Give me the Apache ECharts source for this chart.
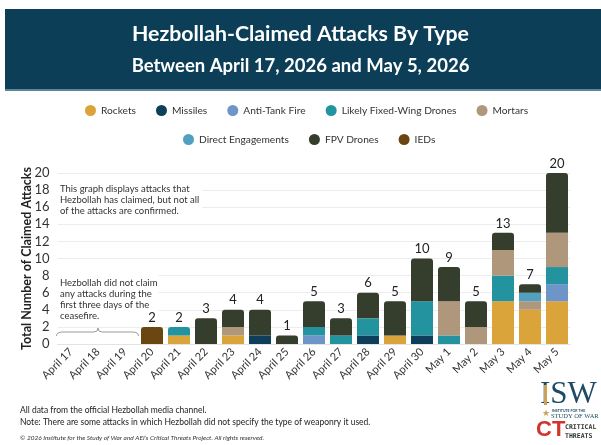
<!DOCTYPE html>
<html>
<head>
<meta charset="utf-8">
<script src="https://cdn.jsdelivr.net/npm/echarts@6/dist/echarts.min.js"></script>
<style>
html,body{margin:0;padding:0;background:#fff;}
#chart{width:601px;height:445px;}
</style>
</head>
<body>
<div id="chart"></div>
<script>
const categories = ['April 17','April 18','April 19','April 20','April 21','April 22','April 23','April 24','April 25','April 26','April 27','April 28','April 29','April 30','May 1','May 2','May 3','May 4','May 5'];
const rockets    = [0,0,0,0,1,0,1,0,0,0,0,0,1,0,0,0,5,4,5];
const missiles   = [0,0,0,0,0,0,0,1,0,0,0,1,0,1,0,0,0,0,0];
const antiTank   = [0,0,0,0,0,0,0,0,0,1,0,0,0,0,0,0,0,0,2];
const fixedWing  = [0,0,0,0,1,0,0,0,0,1,1,2,0,4,1,0,3,0,2];
const mortars    = [0,0,0,0,0,0,1,0,0,0,0,0,0,0,4,2,3,1,4];
const directEng  = [0,0,0,0,0,0,0,0,0,0,0,0,0,0,0,0,0,1,0];
const fpvDrones  = [0,0,0,0,0,3,2,3,1,3,2,3,4,5,4,3,2,1,7];
const ieds       = [0,0,0,2,0,0,0,0,0,0,0,0,0,0,0,0,0,0,0];
const yTicks = [0,2,4,6,8,10,12,14,16,18,20];

const seriesDefs = [
  {name:'Rockets', values:rockets, color:'#DBA43A'},
  {name:'Missiles', values:missiles, color:'#0D3F5B'},
  {name:'Anti-Tank Fire', values:antiTank, color:'#6D95C8'},
  {name:'Likely Fixed-Wing Drones', values:fixedWing, color:'#23949F'},
  {name:'Mortars', values:mortars, color:'#AE977A'},
  {name:'Direct Engagements', values:directEng, color:'#52A0BF'},
  {name:'FPV Drones', values:fpvDrones, color:'#353E2C'},
  {name:'IEDs', values:ieds, color:'#6A4710'}
];

const totals = categories.map((c,i)=>seriesDefs.reduce((a,s)=>a+s.values[i],0));
const topIdx = categories.map((c,i)=>{let t=-1; seriesDefs.forEach((s,si)=>{if(s.values[i]>0) t=si;}); return t;});

const FONT = 'Lato, "Open Sans", sans-serif';

const series = seriesDefs.map((s,si)=>({
  name:s.name, type:'bar', stack:'total', barWidth:22,
  itemStyle:{color:s.color},
  emphasis:{disabled:true},
  z:5,
  data:s.values.map((v,i)=>{
    if(!v) return '-';
    const isTop = topIdx[i]===si;
    const d = {value:v};
    if(isTop){
      d.itemStyle = {borderRadius:[3,3,0,0]};
      d.label = {show:true, position:'top', distance:3, formatter:String(totals[i]), color:'#222', fontSize:13, fontFamily:FONT};
    }
    return d;
  })
}));

const legendCommon = {
  icon:'circle', itemWidth:11, itemHeight:11, itemGap:20,
  textStyle:{fontFamily:FONT, fontSize:10.2, color:'#333'},
  selectedMode:false
};

const staticGraphics = [
  {type:'rect', shape:{x:5,y:9,width:596,height:81}, style:{fill:'#0C3F57'}, silent:true},
  {type:'rect', shape:{x:5,y:89,width:596,height:2}, style:{fill:'#5E8698'}, silent:true},
  {type:'text', left:'center', top:24, style:{text:'Hezbollah-Claimed Attacks By Type', fill:'#fff', font:'bold 21.3px '+FONT}},
  {type:'text', left:'center', top:57, style:{text:'Between April 17, 2026 and May 5, 2026', fill:'#fff', font:'bold 18.5px '+FONT}},
  {type:'text', left:57, top:181, z:1, style:{text:'This graph displays attacks that\nHezbollah has claimed, but not all\nof the attacks are confirmed.', fill:'#333', font:'9.5px '+FONT, lineHeight:10.7, backgroundColor:'#fff', padding:[3,3,3,3]}},
  {type:'text', left:57, top:275, z:1, style:{text:'Hezbollah did not claim\nany attacks during the\nfirst three days of the\nceasefire.', fill:'#333', font:'9.5px '+FONT, lineHeight:10.7, backgroundColor:'#fff', padding:[3,1,3,3]}},
  {type:'text', left:20, top:406, style:{text:'All data from the official Hezbollah media channel.', fill:'#222', font:'8.5px '+FONT}},
  {type:'text', left:20, top:418, style:{text:'Note: There are some attacks in which Hezbollah did not specify the type of weaponry it used.', fill:'#222', font:'8.5px '+FONT}},
  {type:'text', left:20, top:434, style:{text:'\u00A9 2026 Institute for the Study of War and AEI\u2019s Critical Threats Project. All rights reserved.', fill:'#333', font:'italic 6.5px '+FONT}},
  // ISW logo
  {type:'text', left:540, top:379, style:{text:'ISW', fill:'#1D4B63', font:'31px "Liberation Serif", serif'}},
  {type:'rect', shape:{x:544,y:385,width:3,height:20}, style:{fill:'#C9A15A'}},
  {type:'text', left:552, top:409, style:{text:'INSTITUTE FOR THE', fill:'#1D4B63', font:'bold 3.5px '+FONT}},
  {type:'text', left:551, top:413, style:{text:'STUDY OF WAR', fill:'#1D4B63', font:'6.5px "Liberation Serif", serif'}},
  {type:'text', left:542, top:409, style:{text:'\u2605', fill:'#C9A15A', font:'9px "DejaVu Sans"'}},
  // CT logo
  {type:'text', left:536, top:419, style:{text:'CT', fill:'#D2342B', font:'bold 22px "Liberation Sans", sans-serif'}},
  {type:'text', left:565, top:424, style:{text:'CRITICAL', fill:'#333', font:'bold 6.5px "DejaVu Sans Mono", monospace'}},
  {type:'text', left:565, top:433, style:{text:'THREATS', fill:'#333', font:'bold 6.5px "DejaVu Sans Mono", monospace'}}
];

const chart = echarts.init(document.getElementById('chart'), null, {renderer:'canvas'});
const option = {
  animation:false,
  backgroundColor:'#fff',
  grid:{left:57.5, right:30.5, top:173, bottom:101, containLabel:false},
  legend:[
    Object.assign({left:80, top:100, data:['Rockets','Missiles','Anti-Tank Fire','Likely Fixed-Wing Drones','Mortars']}, legendCommon),
    Object.assign({left:178, top:129, data:['Direct Engagements','FPV Drones','IEDs']}, legendCommon)
  ],
  xAxis:{
    type:'category', data:categories,
    axisLine:{show:true, lineStyle:{color:'#e3e3e3'}},
    axisTick:{show:false},
    axisLabel:{rotate:45, interval:0, fontFamily:FONT, fontSize:11, color:'#333', margin:6}
  },
  yAxis:{
    type:'value', min:yTicks[0], max:yTicks[yTicks.length-1], interval:2,
    name:'Total Number of Claimed Attacks', nameLocation:'middle', nameGap:24, nameMoveOverlap:false,
    nameTextStyle:{fontFamily:FONT, fontWeight:'bold', fontSize:12.5, color:'#222'},
    axisLine:{show:false}, axisTick:{show:false},
    axisLabel:{fontFamily:FONT, fontSize:13, color:'#333', margin:8},
    splitLine:{lineStyle:{color:'#ececec'}}
  },
  series:series,
  graphic:staticGraphics
};
chart.setOption(option);

// Brace spanning April 17 - April 19, positioned via axis scales
const p0 = chart.convertToPixel({gridIndex:0}, [0, 1.4]);
const p1 = chart.convertToPixel({gridIndex:0}, [1, 1.4]);
const p2 = chart.convertToPixel({gridIndex:0}, [2, 1.4]);
const half = (p1[0]-p0[0])/2;
const x0 = p0[0]-half-1, x1 = p2[0]+half, xm = p1[0], y = p0[1];
const bs = {stroke:'#9a9a9a', lineWidth:1, fill:null};
const brace = [
  {type:'bezierCurve', shape:{x1:x0,y1:y+4,x2:x0+6,y2:y,cpx1:x0,cpy1:y}, style:bs, z:11, silent:true},
  {type:'line', shape:{x1:x0+6,y1:y,x2:xm-4,y2:y}, style:bs, z:11, silent:true},
  {type:'bezierCurve', shape:{x1:xm-4,y1:y,x2:xm,y2:y-4,cpx1:xm,cpy1:y}, style:bs, z:11, silent:true},
  {type:'bezierCurve', shape:{x1:xm,y1:y-4,x2:xm+4,y2:y,cpx1:xm,cpy1:y}, style:bs, z:11, silent:true},
  {type:'line', shape:{x1:xm+4,y1:y,x2:x1-6,y2:y}, style:bs, z:11, silent:true},
  {type:'bezierCurve', shape:{x1:x1-6,y1:y,x2:x1,y2:y+4,cpx1:x1,cpy1:y}, style:bs, z:11, silent:true}
];
chart.setOption({graphic: staticGraphics.concat(brace)});
</script>
</body>
</html>
